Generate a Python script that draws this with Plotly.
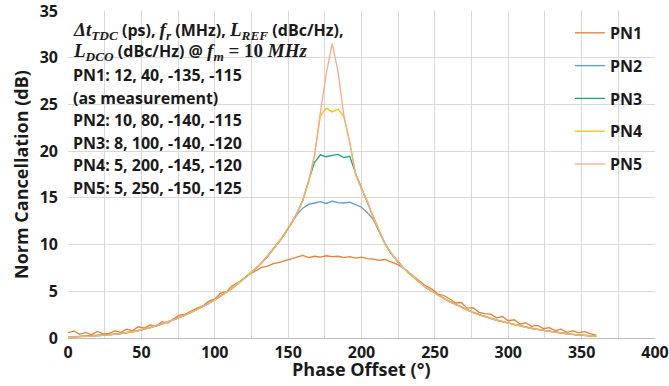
import plotly.graph_objects as go

# ---------------- data ----------------
phase = list(range(0, 361, 4))  # sample grid (deg)

pn1 = [0.55, 0.75, 0.40, 0.60, 0.35, 0.70, 0.45, 0.50, 0.75, 0.60,
       0.95, 0.80, 1.20, 1.05, 1.40, 1.25, 1.75, 1.60, 2.05, 2.45,
       2.55, 2.90, 3.20, 3.45, 3.95, 4.15, 4.80, 4.95, 5.60, 5.95,
       6.40, 6.85, 7.20, 7.55, 7.70, 7.95, 8.10, 8.30, 8.45, 8.70,
       8.85, 8.60, 8.75, 8.65, 8.80, 8.70, 8.75, 8.60, 8.70, 8.55,
       8.65, 8.50, 8.45, 8.30, 8.40, 8.15, 7.90, 7.55, 7.05, 6.55,
       6.05, 5.55, 5.25, 4.70, 4.55, 4.20, 3.75, 3.80, 3.20, 3.25,
       2.75, 2.60, 2.55, 2.15, 2.30, 1.85, 1.95, 1.50, 1.60, 1.25,
       1.35, 1.00, 1.10, 0.80, 0.95, 0.60, 0.75, 0.55, 0.70, 0.45,
       0.30]

pn2 = [0.10, 0.12, 0.15, 0.18, 0.19, 0.25, 0.28, 0.34, 0.39, 0.48,
       0.56, 0.66, 0.80, 0.95, 1.10, 1.30, 1.50, 1.72, 1.95, 2.20,
       2.45, 2.76, 3.05, 3.38, 3.72, 4.08, 4.48, 4.90, 5.35, 5.85,
       6.35, 6.90, 7.45, 8.05, 8.75, 9.55, 10.35, 11.20, 12.20, 13.20,
       13.90, 14.30, 14.45, 14.60, 14.40, 14.65, 14.50, 14.45, 14.55, 14.30,
       14.00, 13.40, 12.70, 11.40, 10.10, 9.10, 8.30, 7.60, 7.00, 6.45,
       5.90, 5.40, 5.00, 4.60, 4.25, 3.90, 3.60, 3.30, 3.00, 2.75,
       2.50, 2.30, 2.10, 1.90, 1.75, 1.60, 1.45, 1.30, 1.15, 1.02,
       0.92, 0.82, 0.72, 0.62, 0.53, 0.45, 0.38, 0.32, 0.27, 0.22,
       0.18]

pn3 = [0.09, 0.13, 0.15, 0.16, 0.21, 0.25, 0.29, 0.34, 0.41, 0.48,
       0.57, 0.67, 0.79, 0.96, 1.11, 1.31, 1.49, 1.74, 1.94, 2.21,
       2.46, 2.77, 3.04, 3.39, 3.71, 4.10, 4.47, 4.92, 5.33, 5.87,
       6.33, 6.93, 7.43, 8.08, 8.70, 9.58, 10.33, 11.28, 12.22, 13.37,
       14.72, 16.85, 18.80, 19.60, 19.40, 19.55, 19.65, 19.30, 19.45, 17.60,
       16.05, 14.62, 12.88, 11.42, 10.12, 9.08, 8.32, 7.58, 7.02, 6.43,
       5.92, 5.38, 5.02, 4.59, 4.26, 3.89, 3.62, 3.29, 3.01, 2.74,
       2.51, 2.29, 2.11, 1.89, 1.76, 1.59, 1.46, 1.29, 1.16, 1.01,
       0.93, 0.81, 0.73, 0.61, 0.54, 0.44, 0.39, 0.31, 0.28, 0.21,
       0.17]

pn4 = [0.11, 0.10, 0.16, 0.15, 0.22, 0.23, 0.30, 0.32, 0.42, 0.46,
       0.58, 0.64, 0.82, 0.93, 1.12, 1.28, 1.53, 1.69, 1.98, 2.18,
       2.48, 2.72, 3.09, 3.35, 3.75, 4.05, 4.52, 4.86, 5.40, 5.82,
       6.40, 6.86, 7.50, 8.00, 8.80, 9.50, 10.40, 11.20, 12.30, 13.30,
       14.80, 16.70, 19.60, 23.80, 24.60, 24.20, 24.50, 23.70, 20.90, 17.50,
       15.90, 14.70, 12.80, 11.50, 10.00, 9.20, 8.25, 7.65, 6.95, 6.50,
       5.88, 5.43, 4.96, 4.63, 4.22, 3.93, 3.57, 3.34, 2.97, 2.78,
       2.48, 2.33, 2.08, 1.92, 1.73, 1.62, 1.43, 1.32, 1.13, 1.04,
       0.90, 0.84, 0.70, 0.64, 0.51, 0.47, 0.36, 0.34, 0.25, 0.24,
       0.16]

pn5 = [0.08, 0.14, 0.12, 0.19, 0.18, 0.26, 0.27, 0.35, 0.38, 0.49,
       0.55, 0.68, 0.78, 0.97, 1.08, 1.33, 1.48, 1.75, 1.93, 2.24,
       2.42, 2.79, 3.02, 3.41, 3.69, 4.12, 4.45, 4.94, 5.31, 5.90,
       6.32, 6.95, 7.41, 8.10, 8.72, 9.60, 10.30, 11.30, 12.20, 13.40,
       14.70, 16.80, 19.50, 24.20, 28.30, 31.50, 28.50, 23.80, 21.00, 17.50,
       16.00, 14.60, 12.90, 11.40, 10.10, 9.10, 8.34, 7.55, 7.05, 6.40,
       5.95, 5.36, 5.04, 4.57, 4.28, 3.87, 3.63, 3.27, 3.03, 2.72,
       2.53, 2.27, 2.12, 1.88, 1.77, 1.58, 1.47, 1.28, 1.17, 1.00,
       0.94, 0.80, 0.74, 0.60, 0.55, 0.43, 0.40, 0.30, 0.29, 0.20,
       0.19]

series_names = ["PN1", "PN2", "PN3", "PN4", "PN5"]
series_values = [pn1, pn2, pn3, pn4, pn5]
series_colors = ["#ED7D31", "#5B9BD5", "#1FA37C", "#FFC000", "#F2AE86"]

x_ticks = [0, 50, 100, 150, 200, 250, 300, 350, 400]
y_ticks = [0, 5, 10, 15, 20, 25, 30, 35]

x_title = "Phase Offset (°)"
y_title = "Norm Cancellation (dB)"

MATH = "font-family:'Liberation Serif';font-size:19px"
header_text = (
    f"<span style=\"{MATH}\"><i>Δt</i><sub><i>TDC</i></sub></span> (ps), "
    f"<span style=\"{MATH}\"><i>f</i><sub><i>r</i></sub></span> (MHz), "
    f"<span style=\"{MATH}\"><i>L</i><sub><i>REF</i></sub></span> (dBc/Hz),<br>"
    f"<span style=\"{MATH}\"><i>L</i><sub><i>DCO</i></sub></span> (dBc/Hz) @ "
    f"<span style=\"{MATH}\"><i>f</i><sub><i>m</i></sub> = 10 <i>MHz</i></span>"
)
note_lines = [
    "PN1: 12, 40, -135, -115",
    "(as measurement)",
    "PN2: 10, 80, -140, -115",
    "PN3: 8, 100, -140, -120",
    "PN4: 5, 200, -145, -120",
    "PN5: 5, 250, -150, -125",
]

# ---------------- figure ----------------
FONT = "Open Sans"
TXT = "#1a1a1a"
fig = go.Figure()
for i, (name, vals, col) in enumerate(zip(series_names, series_values, series_colors)):
    fig.add_trace(go.Scatter(
        x=phase, y=vals, mode="lines", name=name,
        line=dict(color=col, width=1.3),
        legendgroup=f"g{i}",
    ))

# two-line header
fig.add_annotation(
    x=2.3, y=31.7, xref="x", yref="y",
    xanchor="left", yanchor="middle", showarrow=False, align="left",
    text=f"<b>{header_text}</b>",
    font=dict(family=FONT, size=16, color=TXT),
)
for k, txt in enumerate(note_lines):
    fig.add_annotation(
        x=2.3, y=28.1 - 2.4 * k, xref="x", yref="y",
        xanchor="left", yanchor="middle", showarrow=False,
        text=f"<b>{txt}</b>",
        font=dict(family=FONT, size=16, color=TXT),
    )

# axis titles
fig.add_annotation(
    x=0.5, y=-0.096, xref="paper", yref="paper", xanchor="center", yanchor="middle",
    showarrow=False, text=f"<b>{x_title}</b>", font=dict(family=FONT, size=18, color=TXT),
)
fig.add_annotation(
    x=-0.081, y=0.5, xref="paper", yref="paper", xanchor="center", yanchor="middle",
    showarrow=False, textangle=-90, text=f"<b>{y_title}</b>",
    font=dict(family=FONT, size=18, color=TXT),
)

grid = "#D9D9D9"
fig.update_layout(
    width=669, height=386,
    margin=dict(l=68, r=14, t=11, b=48),
    paper_bgcolor="white", plot_bgcolor="white",
    font=dict(family=FONT, color=TXT),
    showlegend=True,
    legend=dict(
        x=0.855, y=0.985, xanchor="left", yanchor="top",
        bgcolor="rgba(0,0,0,0)", borderwidth=0,
        font=dict(family=FONT, size=16, weight="bold", color=TXT),
        tracegroupgap=9, itemwidth=30,
    ),
    xaxis=dict(
        range=[0, 400], tickvals=x_ticks, ticks="", automargin=False,
        showgrid=True, gridcolor=grid, gridwidth=1.2,
        minor=dict(dtick=25, showgrid=True, gridcolor=grid, gridwidth=1.2),
        showline=True, linecolor="#BFBFBF", linewidth=1.2, mirror=False,
        zeroline=False, ticklabeloverflow="allow",
        tickfont=dict(family=FONT, size=16, weight="bold", color=TXT),
        ticklabelstandoff=0,
    ),
    yaxis=dict(
        range=[0, 35], tickvals=y_ticks, ticks="", automargin=False,
        showgrid=True, gridcolor=grid, gridwidth=1.2,
        showline=False, zeroline=False, ticklabeloverflow="allow",
        tickfont=dict(family=FONT, size=16, weight="bold", color=TXT),
        ticklabelstandoff=9,
    ),
)

# remove the browser's default 8px body margin so the figure fills the window
fig.write_html(
    "out.html",
    config={"displayModeBar": False},
    post_script="document.body.style.margin='0px';",
)
